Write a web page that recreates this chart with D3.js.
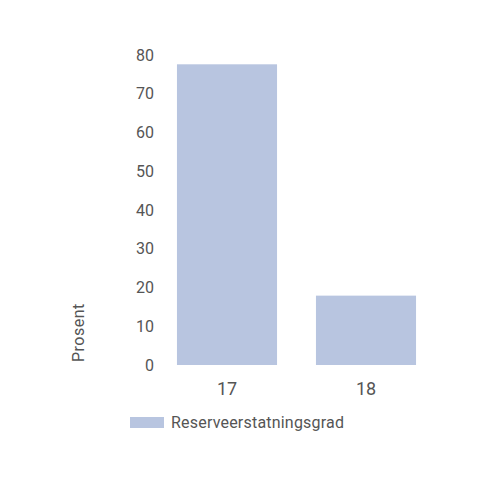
<!DOCTYPE html>
<html>
<head>
<meta charset="utf-8">
<script src="https://cdn.jsdelivr.net/npm/d3@7"></script>
<style>
  body { margin: 0; background: #fff; }
  text { font-family: Roboto, "DejaVu Sans", sans-serif; fill: #555; }
</style>
</head>
<body>
<div id="chart"></div>
<script>
const categories = ['17', '18'];
const values = [77.6, 17.9];
const yTicks = [0, 10, 20, 30, 40, 50, 60, 70, 80];
const seriesName = 'Reserveerstatningsgrad';
const color = '#b8c5e0';

const svg = d3.select('#chart')
  .append('svg')
  .attr('width', 500)
  .attr('height', 500);

const x = d3.scaleBand()
  .domain(categories)
  .range([157.5, 435.5])
  .paddingInner(0.28)
  .paddingOuter(0.14);

const y = d3.scaleLinear()
  .domain([0, 80])
  .range([365, 55]);

svg.append('g')
  .selectAll('rect')
  .data(values)
  .enter()
  .append('rect')
  .attr('x', (d, i) => x(categories[i]))
  .attr('y', (d) => y(d))
  .attr('width', x.bandwidth())
  .attr('height', (d) => y(0) - y(d))
  .attr('fill', color);

const yAxis = svg.append('g')
  .attr('transform', 'translate(154, 0)')
  .call(d3.axisLeft(y).tickValues(yTicks).tickSize(0).tickPadding(0));
yAxis.select('.domain').remove();
yAxis.selectAll('text')
  .style('font-size', '16px')
  .style('fill', '#555')
  .style('font-family', 'Roboto, "DejaVu Sans", sans-serif');

const xAxis = svg.append('g')
  .attr('transform', 'translate(0, 382)')
  .call(d3.axisBottom(x).tickSize(0).tickPadding(0));
xAxis.select('.domain').remove();
xAxis.selectAll('text')
  .style('font-size', '18px')
  .style('fill', '#555')
  .style('font-family', 'Roboto, "DejaVu Sans", sans-serif');

svg.append('text')
  .attr('transform', 'translate(84, 362) rotate(-90)')
  .attr('text-anchor', 'start')
  .style('font-size', '16px')
  .style('letter-spacing', '0.5px')
  .text('Prosent');

// legend
svg.append('rect')
  .attr('x', 130)
  .attr('y', 417)
  .attr('width', 34)
  .attr('height', 11)
  .attr('fill', color);

svg.append('text')
  .attr('x', 171)
  .attr('y', 428)
  .style('font-size', '16px')
  .style('letter-spacing', '0.2px')
  .text(seriesName);
</script>
</body>
</html>
